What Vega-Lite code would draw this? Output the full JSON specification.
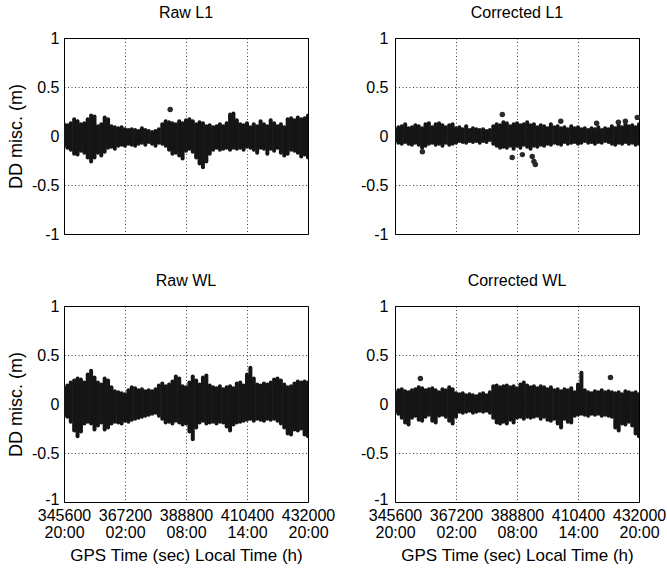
{
"$schema": "https://vega.github.io/schema/vega-lite/v6.json",
"background": "white",
"padding": {"top": 4, "left": 6, "right": 0, "bottom": 5},
"bounds": "flush",
"columns": 2,
"spacing": {"row": 72, "column": 87},
"config": {
 "font": "Liberation Sans",
 "view": {"stroke": "#000", "strokeWidth": 1},
 "axis": {"domain": false, "ticks": false, "grid": true, "gridColor": "#000", "gridDash": [1, 2.5], "gridOpacity": 0.75, "gridWidth": 1, "labelFont": "Liberation Sans", "labelFontSize": 16, "labelColor": "#000", "labelPadding": 5, "titleFont": "Liberation Sans", "titleFontSize": 18, "titleFontWeight": "normal", "titleColor": "#000"},
 "title": {"font": "Liberation Sans", "fontSize": 16, "fontWeight": "normal", "color": "#000", "offset": 9}
},
"datasets": {
 "bands": [
{"p":"Raw L1","t":345600,"lo":-0.10,"hi":0.12},{"p":"Raw L1","t":346800,"lo":-0.12,"hi":0.11},{"p":"Raw L1","t":348000,"lo":-0.14,"hi":0.13},{"p":"Raw L1","t":349200,"lo":-0.18,"hi":0.17},{"p":"Raw L1","t":350400,"lo":-0.19,"hi":0.15},{"p":"Raw L1","t":351600,"lo":-0.15,"hi":0.12},{"p":"Raw L1","t":352800,"lo":-0.17,"hi":0.13},{"p":"Raw L1","t":354000,"lo":-0.22,"hi":0.17},{"p":"Raw L1","t":355200,"lo":-0.26,"hi":0.21},{"p":"Raw L1","t":356400,"lo":-0.22,"hi":0.20},{"p":"Raw L1","t":357600,"lo":-0.17,"hi":0.10},{"p":"Raw L1","t":358800,"lo":-0.20,"hi":0.12},{"p":"Raw L1","t":360000,"lo":-0.16,"hi":0.19},{"p":"Raw L1","t":361200,"lo":-0.12,"hi":0.17},{"p":"Raw L1","t":362400,"lo":-0.11,"hi":0.10},{"p":"Raw L1","t":363600,"lo":-0.13,"hi":0.09},{"p":"Raw L1","t":364800,"lo":-0.10,"hi":0.08},{"p":"Raw L1","t":366000,"lo":-0.09,"hi":0.09},{"p":"Raw L1","t":367200,"lo":-0.10,"hi":0.07},{"p":"Raw L1","t":368400,"lo":-0.08,"hi":0.06},{"p":"Raw L1","t":369600,"lo":-0.09,"hi":0.07},{"p":"Raw L1","t":370800,"lo":-0.10,"hi":0.06},{"p":"Raw L1","t":372000,"lo":-0.08,"hi":0.05},{"p":"Raw L1","t":373200,"lo":-0.07,"hi":0.08},{"p":"Raw L1","t":374400,"lo":-0.09,"hi":0.06},{"p":"Raw L1","t":375600,"lo":-0.06,"hi":0.05},{"p":"Raw L1","t":376800,"lo":-0.08,"hi":0.04},{"p":"Raw L1","t":378000,"lo":-0.10,"hi":0.05},{"p":"Raw L1","t":379200,"lo":-0.07,"hi":0.07},{"p":"Raw L1","t":380400,"lo":-0.08,"hi":0.12},{"p":"Raw L1","t":381600,"lo":-0.10,"hi":0.15},{"p":"Raw L1","t":382800,"lo":-0.14,"hi":0.14},{"p":"Raw L1","t":384000,"lo":-0.18,"hi":0.13},{"p":"Raw L1","t":385200,"lo":-0.17,"hi":0.12},{"p":"Raw L1","t":386400,"lo":-0.20,"hi":0.15},{"p":"Raw L1","t":387600,"lo":-0.23,"hi":0.13},{"p":"Raw L1","t":388800,"lo":-0.15,"hi":0.16},{"p":"Raw L1","t":390000,"lo":-0.13,"hi":0.17},{"p":"Raw L1","t":391200,"lo":-0.16,"hi":0.15},{"p":"Raw L1","t":392400,"lo":-0.22,"hi":0.12},{"p":"Raw L1","t":393600,"lo":-0.28,"hi":0.14},{"p":"Raw L1","t":394800,"lo":-0.32,"hi":0.13},{"p":"Raw L1","t":396000,"lo":-0.26,"hi":0.10},{"p":"Raw L1","t":397200,"lo":-0.18,"hi":0.11},{"p":"Raw L1","t":398400,"lo":-0.14,"hi":0.09},{"p":"Raw L1","t":399600,"lo":-0.12,"hi":0.10},{"p":"Raw L1","t":400800,"lo":-0.14,"hi":0.12},{"p":"Raw L1","t":402000,"lo":-0.13,"hi":0.10},{"p":"Raw L1","t":403200,"lo":-0.12,"hi":0.13},{"p":"Raw L1","t":404400,"lo":-0.14,"hi":0.22},{"p":"Raw L1","t":405600,"lo":-0.12,"hi":0.23},{"p":"Raw L1","t":406800,"lo":-0.13,"hi":0.16},{"p":"Raw L1","t":408000,"lo":-0.12,"hi":0.12},{"p":"Raw L1","t":409200,"lo":-0.14,"hi":0.11},{"p":"Raw L1","t":410400,"lo":-0.11,"hi":0.13},{"p":"Raw L1","t":411600,"lo":-0.12,"hi":0.09},{"p":"Raw L1","t":412800,"lo":-0.14,"hi":0.12},{"p":"Raw L1","t":414000,"lo":-0.17,"hi":0.10},{"p":"Raw L1","t":415200,"lo":-0.12,"hi":0.15},{"p":"Raw L1","t":416400,"lo":-0.13,"hi":0.12},{"p":"Raw L1","t":417600,"lo":-0.18,"hi":0.10},{"p":"Raw L1","t":418800,"lo":-0.13,"hi":0.16},{"p":"Raw L1","t":420000,"lo":-0.15,"hi":0.13},{"p":"Raw L1","t":421200,"lo":-0.12,"hi":0.10},{"p":"Raw L1","t":422400,"lo":-0.17,"hi":0.12},{"p":"Raw L1","t":423600,"lo":-0.20,"hi":0.09},{"p":"Raw L1","t":424800,"lo":-0.18,"hi":0.17},{"p":"Raw L1","t":426000,"lo":-0.14,"hi":0.18},{"p":"Raw L1","t":427200,"lo":-0.15,"hi":0.16},{"p":"Raw L1","t":428400,"lo":-0.17,"hi":0.19},{"p":"Raw L1","t":429600,"lo":-0.21,"hi":0.17},{"p":"Raw L1","t":430800,"lo":-0.19,"hi":0.18},{"p":"Raw L1","t":432000,"lo":-0.22,"hi":0.21},
{"p":"Corrected L1","t":345600,"lo":-0.05,"hi":0.07},{"p":"Corrected L1","t":346800,"lo":-0.07,"hi":0.09},{"p":"Corrected L1","t":348000,"lo":-0.08,"hi":0.10},{"p":"Corrected L1","t":349200,"lo":-0.06,"hi":0.12},{"p":"Corrected L1","t":350400,"lo":-0.08,"hi":0.08},{"p":"Corrected L1","t":351600,"lo":-0.09,"hi":0.09},{"p":"Corrected L1","t":352800,"lo":-0.07,"hi":0.11},{"p":"Corrected L1","t":354000,"lo":-0.09,"hi":0.10},{"p":"Corrected L1","t":355200,"lo":-0.12,"hi":0.08},{"p":"Corrected L1","t":356400,"lo":-0.10,"hi":0.12},{"p":"Corrected L1","t":357600,"lo":-0.08,"hi":0.13},{"p":"Corrected L1","t":358800,"lo":-0.07,"hi":0.09},{"p":"Corrected L1","t":360000,"lo":-0.09,"hi":0.12},{"p":"Corrected L1","t":361200,"lo":-0.08,"hi":0.13},{"p":"Corrected L1","t":362400,"lo":-0.10,"hi":0.11},{"p":"Corrected L1","t":363600,"lo":-0.07,"hi":0.09},{"p":"Corrected L1","t":364800,"lo":-0.09,"hi":0.11},{"p":"Corrected L1","t":366000,"lo":-0.08,"hi":0.12},{"p":"Corrected L1","t":367200,"lo":-0.07,"hi":0.08},{"p":"Corrected L1","t":368400,"lo":-0.05,"hi":0.09},{"p":"Corrected L1","t":369600,"lo":-0.06,"hi":0.07},{"p":"Corrected L1","t":370800,"lo":-0.07,"hi":0.10},{"p":"Corrected L1","t":372000,"lo":-0.05,"hi":0.06},{"p":"Corrected L1","t":373200,"lo":-0.06,"hi":0.08},{"p":"Corrected L1","t":374400,"lo":-0.05,"hi":0.07},{"p":"Corrected L1","t":375600,"lo":-0.07,"hi":0.06},{"p":"Corrected L1","t":376800,"lo":-0.05,"hi":0.07},{"p":"Corrected L1","t":378000,"lo":-0.06,"hi":0.05},{"p":"Corrected L1","t":379200,"lo":-0.04,"hi":0.06},{"p":"Corrected L1","t":380400,"lo":-0.08,"hi":0.10},{"p":"Corrected L1","t":381600,"lo":-0.10,"hi":0.12},{"p":"Corrected L1","t":382800,"lo":-0.12,"hi":0.11},{"p":"Corrected L1","t":384000,"lo":-0.11,"hi":0.14},{"p":"Corrected L1","t":385200,"lo":-0.12,"hi":0.13},{"p":"Corrected L1","t":386400,"lo":-0.10,"hi":0.10},{"p":"Corrected L1","t":387600,"lo":-0.13,"hi":0.12},{"p":"Corrected L1","t":388800,"lo":-0.10,"hi":0.13},{"p":"Corrected L1","t":390000,"lo":-0.12,"hi":0.11},{"p":"Corrected L1","t":391200,"lo":-0.09,"hi":0.12},{"p":"Corrected L1","t":392400,"lo":-0.11,"hi":0.14},{"p":"Corrected L1","t":393600,"lo":-0.13,"hi":0.11},{"p":"Corrected L1","t":394800,"lo":-0.10,"hi":0.12},{"p":"Corrected L1","t":396000,"lo":-0.11,"hi":0.09},{"p":"Corrected L1","t":397200,"lo":-0.09,"hi":0.11},{"p":"Corrected L1","t":398400,"lo":-0.10,"hi":0.10},{"p":"Corrected L1","t":399600,"lo":-0.08,"hi":0.08},{"p":"Corrected L1","t":400800,"lo":-0.09,"hi":0.12},{"p":"Corrected L1","t":402000,"lo":-0.07,"hi":0.09},{"p":"Corrected L1","t":403200,"lo":-0.08,"hi":0.10},{"p":"Corrected L1","t":404400,"lo":-0.09,"hi":0.08},{"p":"Corrected L1","t":405600,"lo":-0.06,"hi":0.09},{"p":"Corrected L1","t":406800,"lo":-0.08,"hi":0.07},{"p":"Corrected L1","t":408000,"lo":-0.07,"hi":0.10},{"p":"Corrected L1","t":409200,"lo":-0.06,"hi":0.08},{"p":"Corrected L1","t":410400,"lo":-0.08,"hi":0.09},{"p":"Corrected L1","t":411600,"lo":-0.07,"hi":0.07},{"p":"Corrected L1","t":412800,"lo":-0.05,"hi":0.08},{"p":"Corrected L1","t":414000,"lo":-0.07,"hi":0.06},{"p":"Corrected L1","t":415200,"lo":-0.06,"hi":0.08},{"p":"Corrected L1","t":416400,"lo":-0.08,"hi":0.07},{"p":"Corrected L1","t":417600,"lo":-0.06,"hi":0.09},{"p":"Corrected L1","t":418800,"lo":-0.07,"hi":0.06},{"p":"Corrected L1","t":420000,"lo":-0.05,"hi":0.08},{"p":"Corrected L1","t":421200,"lo":-0.06,"hi":0.07},{"p":"Corrected L1","t":422400,"lo":-0.08,"hi":0.10},{"p":"Corrected L1","t":423600,"lo":-0.09,"hi":0.08},{"p":"Corrected L1","t":424800,"lo":-0.07,"hi":0.11},{"p":"Corrected L1","t":426000,"lo":-0.08,"hi":0.09},{"p":"Corrected L1","t":427200,"lo":-0.06,"hi":0.12},{"p":"Corrected L1","t":428400,"lo":-0.08,"hi":0.10},{"p":"Corrected L1","t":429600,"lo":-0.07,"hi":0.11},{"p":"Corrected L1","t":430800,"lo":-0.09,"hi":0.09},{"p":"Corrected L1","t":432000,"lo":-0.08,"hi":0.12},
{"p":"Raw WL","t":345600,"lo":-0.12,"hi":0.17},{"p":"Raw WL","t":346800,"lo":-0.13,"hi":0.19},{"p":"Raw WL","t":348000,"lo":-0.18,"hi":0.22},{"p":"Raw WL","t":349200,"lo":-0.27,"hi":0.24},{"p":"Raw WL","t":350400,"lo":-0.33,"hi":0.26},{"p":"Raw WL","t":351600,"lo":-0.28,"hi":0.25},{"p":"Raw WL","t":352800,"lo":-0.20,"hi":0.22},{"p":"Raw WL","t":354000,"lo":-0.18,"hi":0.30},{"p":"Raw WL","t":355200,"lo":-0.20,"hi":0.34},{"p":"Raw WL","t":356400,"lo":-0.26,"hi":0.27},{"p":"Raw WL","t":357600,"lo":-0.22,"hi":0.22},{"p":"Raw WL","t":358800,"lo":-0.19,"hi":0.20},{"p":"Raw WL","t":360000,"lo":-0.26,"hi":0.26},{"p":"Raw WL","t":361200,"lo":-0.24,"hi":0.24},{"p":"Raw WL","t":362400,"lo":-0.20,"hi":0.17},{"p":"Raw WL","t":363600,"lo":-0.18,"hi":0.13},{"p":"Raw WL","t":364800,"lo":-0.19,"hi":0.12},{"p":"Raw WL","t":366000,"lo":-0.20,"hi":0.11},{"p":"Raw WL","t":367200,"lo":-0.17,"hi":0.10},{"p":"Raw WL","t":368400,"lo":-0.18,"hi":0.14},{"p":"Raw WL","t":369600,"lo":-0.16,"hi":0.17},{"p":"Raw WL","t":370800,"lo":-0.15,"hi":0.16},{"p":"Raw WL","t":372000,"lo":-0.14,"hi":0.14},{"p":"Raw WL","t":373200,"lo":-0.13,"hi":0.15},{"p":"Raw WL","t":374400,"lo":-0.12,"hi":0.13},{"p":"Raw WL","t":375600,"lo":-0.11,"hi":0.14},{"p":"Raw WL","t":376800,"lo":-0.10,"hi":0.13},{"p":"Raw WL","t":378000,"lo":-0.09,"hi":0.15},{"p":"Raw WL","t":379200,"lo":-0.12,"hi":0.19},{"p":"Raw WL","t":380400,"lo":-0.15,"hi":0.21},{"p":"Raw WL","t":381600,"lo":-0.19,"hi":0.18},{"p":"Raw WL","t":382800,"lo":-0.18,"hi":0.20},{"p":"Raw WL","t":384000,"lo":-0.20,"hi":0.23},{"p":"Raw WL","t":385200,"lo":-0.17,"hi":0.28},{"p":"Raw WL","t":386400,"lo":-0.19,"hi":0.26},{"p":"Raw WL","t":387600,"lo":-0.21,"hi":0.18},{"p":"Raw WL","t":388800,"lo":-0.20,"hi":0.17},{"p":"Raw WL","t":390000,"lo":-0.28,"hi":0.22},{"p":"Raw WL","t":391200,"lo":-0.36,"hi":0.28},{"p":"Raw WL","t":392400,"lo":-0.24,"hi":0.24},{"p":"Raw WL","t":393600,"lo":-0.19,"hi":0.20},{"p":"Raw WL","t":394800,"lo":-0.17,"hi":0.27},{"p":"Raw WL","t":396000,"lo":-0.20,"hi":0.29},{"p":"Raw WL","t":397200,"lo":-0.19,"hi":0.19},{"p":"Raw WL","t":398400,"lo":-0.18,"hi":0.17},{"p":"Raw WL","t":399600,"lo":-0.20,"hi":0.16},{"p":"Raw WL","t":400800,"lo":-0.18,"hi":0.18},{"p":"Raw WL","t":402000,"lo":-0.19,"hi":0.15},{"p":"Raw WL","t":403200,"lo":-0.23,"hi":0.17},{"p":"Raw WL","t":404400,"lo":-0.27,"hi":0.18},{"p":"Raw WL","t":405600,"lo":-0.21,"hi":0.16},{"p":"Raw WL","t":406800,"lo":-0.19,"hi":0.21},{"p":"Raw WL","t":408000,"lo":-0.18,"hi":0.22},{"p":"Raw WL","t":409200,"lo":-0.17,"hi":0.19},{"p":"Raw WL","t":410400,"lo":-0.16,"hi":0.30},{"p":"Raw WL","t":411600,"lo":-0.15,"hi":0.37},{"p":"Raw WL","t":412800,"lo":-0.17,"hi":0.26},{"p":"Raw WL","t":414000,"lo":-0.15,"hi":0.20},{"p":"Raw WL","t":415200,"lo":-0.16,"hi":0.19},{"p":"Raw WL","t":416400,"lo":-0.17,"hi":0.21},{"p":"Raw WL","t":417600,"lo":-0.15,"hi":0.20},{"p":"Raw WL","t":418800,"lo":-0.16,"hi":0.22},{"p":"Raw WL","t":420000,"lo":-0.15,"hi":0.25},{"p":"Raw WL","t":421200,"lo":-0.17,"hi":0.26},{"p":"Raw WL","t":422400,"lo":-0.20,"hi":0.24},{"p":"Raw WL","t":423600,"lo":-0.24,"hi":0.20},{"p":"Raw WL","t":424800,"lo":-0.30,"hi":0.17},{"p":"Raw WL","t":426000,"lo":-0.31,"hi":0.18},{"p":"Raw WL","t":427200,"lo":-0.26,"hi":0.21},{"p":"Raw WL","t":428400,"lo":-0.27,"hi":0.23},{"p":"Raw WL","t":429600,"lo":-0.25,"hi":0.22},{"p":"Raw WL","t":430800,"lo":-0.31,"hi":0.23},{"p":"Raw WL","t":432000,"lo":-0.33,"hi":0.22},
{"p":"Corrected WL","t":345600,"lo":-0.08,"hi":0.12},{"p":"Corrected WL","t":346800,"lo":-0.10,"hi":0.14},{"p":"Corrected WL","t":348000,"lo":-0.14,"hi":0.15},{"p":"Corrected WL","t":349200,"lo":-0.19,"hi":0.13},{"p":"Corrected WL","t":350400,"lo":-0.21,"hi":0.12},{"p":"Corrected WL","t":351600,"lo":-0.14,"hi":0.14},{"p":"Corrected WL","t":352800,"lo":-0.12,"hi":0.15},{"p":"Corrected WL","t":354000,"lo":-0.16,"hi":0.17},{"p":"Corrected WL","t":355200,"lo":-0.17,"hi":0.16},{"p":"Corrected WL","t":356400,"lo":-0.13,"hi":0.14},{"p":"Corrected WL","t":357600,"lo":-0.11,"hi":0.15},{"p":"Corrected WL","t":358800,"lo":-0.17,"hi":0.16},{"p":"Corrected WL","t":360000,"lo":-0.19,"hi":0.14},{"p":"Corrected WL","t":361200,"lo":-0.12,"hi":0.12},{"p":"Corrected WL","t":362400,"lo":-0.11,"hi":0.15},{"p":"Corrected WL","t":363600,"lo":-0.13,"hi":0.14},{"p":"Corrected WL","t":364800,"lo":-0.17,"hi":0.17},{"p":"Corrected WL","t":366000,"lo":-0.20,"hi":0.15},{"p":"Corrected WL","t":367200,"lo":-0.13,"hi":0.11},{"p":"Corrected WL","t":368400,"lo":-0.08,"hi":0.10},{"p":"Corrected WL","t":369600,"lo":-0.09,"hi":0.11},{"p":"Corrected WL","t":370800,"lo":-0.08,"hi":0.09},{"p":"Corrected WL","t":372000,"lo":-0.07,"hi":0.10},{"p":"Corrected WL","t":373200,"lo":-0.09,"hi":0.09},{"p":"Corrected WL","t":374400,"lo":-0.08,"hi":0.08},{"p":"Corrected WL","t":375600,"lo":-0.07,"hi":0.10},{"p":"Corrected WL","t":376800,"lo":-0.08,"hi":0.11},{"p":"Corrected WL","t":378000,"lo":-0.07,"hi":0.09},{"p":"Corrected WL","t":379200,"lo":-0.09,"hi":0.12},{"p":"Corrected WL","t":380400,"lo":-0.14,"hi":0.18},{"p":"Corrected WL","t":381600,"lo":-0.19,"hi":0.19},{"p":"Corrected WL","t":382800,"lo":-0.20,"hi":0.17},{"p":"Corrected WL","t":384000,"lo":-0.18,"hi":0.18},{"p":"Corrected WL","t":385200,"lo":-0.20,"hi":0.19},{"p":"Corrected WL","t":386400,"lo":-0.16,"hi":0.17},{"p":"Corrected WL","t":387600,"lo":-0.19,"hi":0.18},{"p":"Corrected WL","t":388800,"lo":-0.14,"hi":0.16},{"p":"Corrected WL","t":390000,"lo":-0.13,"hi":0.20},{"p":"Corrected WL","t":391200,"lo":-0.15,"hi":0.22},{"p":"Corrected WL","t":392400,"lo":-0.13,"hi":0.19},{"p":"Corrected WL","t":393600,"lo":-0.14,"hi":0.17},{"p":"Corrected WL","t":394800,"lo":-0.13,"hi":0.18},{"p":"Corrected WL","t":396000,"lo":-0.12,"hi":0.16},{"p":"Corrected WL","t":397200,"lo":-0.15,"hi":0.18},{"p":"Corrected WL","t":398400,"lo":-0.13,"hi":0.17},{"p":"Corrected WL","t":399600,"lo":-0.16,"hi":0.15},{"p":"Corrected WL","t":400800,"lo":-0.17,"hi":0.17},{"p":"Corrected WL","t":402000,"lo":-0.15,"hi":0.14},{"p":"Corrected WL","t":403200,"lo":-0.20,"hi":0.15},{"p":"Corrected WL","t":404400,"lo":-0.24,"hi":0.13},{"p":"Corrected WL","t":405600,"lo":-0.15,"hi":0.15},{"p":"Corrected WL","t":406800,"lo":-0.18,"hi":0.14},{"p":"Corrected WL","t":408000,"lo":-0.19,"hi":0.16},{"p":"Corrected WL","t":409200,"lo":-0.12,"hi":0.12},{"p":"Corrected WL","t":410400,"lo":-0.11,"hi":0.20},{"p":"Corrected WL","t":411600,"lo":-0.10,"hi":0.32},{"p":"Corrected WL","t":412800,"lo":-0.11,"hi":0.14},{"p":"Corrected WL","t":414000,"lo":-0.12,"hi":0.12},{"p":"Corrected WL","t":415200,"lo":-0.10,"hi":0.11},{"p":"Corrected WL","t":416400,"lo":-0.11,"hi":0.13},{"p":"Corrected WL","t":417600,"lo":-0.10,"hi":0.12},{"p":"Corrected WL","t":418800,"lo":-0.12,"hi":0.14},{"p":"Corrected WL","t":420000,"lo":-0.11,"hi":0.12},{"p":"Corrected WL","t":421200,"lo":-0.12,"hi":0.13},{"p":"Corrected WL","t":422400,"lo":-0.13,"hi":0.12},{"p":"Corrected WL","t":423600,"lo":-0.24,"hi":0.11},{"p":"Corrected WL","t":424800,"lo":-0.27,"hi":0.12},{"p":"Corrected WL","t":426000,"lo":-0.20,"hi":0.10},{"p":"Corrected WL","t":427200,"lo":-0.21,"hi":0.13},{"p":"Corrected WL","t":428400,"lo":-0.18,"hi":0.12},{"p":"Corrected WL","t":429600,"lo":-0.22,"hi":0.11},{"p":"Corrected WL","t":430800,"lo":-0.30,"hi":0.12},{"p":"Corrected WL","t":432000,"lo":-0.33,"hi":0.10}
 ],
 "pts": [
{"p":"Raw L1","t":383200,"v":0.27},
{"p":"Corrected L1","t":383600,"v":0.22},{"p":"Corrected L1","t":355300,"v":-0.16},{"p":"Corrected L1","t":387100,"v":-0.22},{"p":"Corrected L1","t":390700,"v":-0.19},{"p":"Corrected L1","t":394200,"v":-0.21},{"p":"Corrected L1","t":394800,"v":-0.26},{"p":"Corrected L1","t":395300,"v":-0.29},{"p":"Corrected L1","t":404300,"v":0.15},{"p":"Corrected L1","t":417000,"v":0.13},{"p":"Corrected L1","t":424700,"v":0.14},{"p":"Corrected L1","t":427200,"v":0.15},{"p":"Corrected L1","t":431400,"v":0.19},
{"p":"Corrected WL","t":354600,"v":0.26},{"p":"Corrected WL","t":421900,"v":0.27}
 ]
},
"concat": [
 {"title": "Raw L1", "width": 244, "height": 196,
  "encoding": {"x": {"field": "t", "type": "quantitative", "scale": {"domain": [345600, 432000], "nice": false, "zero": false}, "axis": {"values": [345600, 367200, 388800, 410400, 432000], "labels": false, "title": null}}},
  "layer": [
   {"data": {"name": "bands"}, "transform": [{"filter": "datum.p == 'Raw L1'"}], "mark": {"type": "rule", "strokeWidth": 4, "strokeCap": "round", "color": "#151515", "clip": true},
    "encoding": {"y": {"field": "lo", "type": "quantitative", "scale": {"domain": [-1, 1], "nice": false}, "axis": {"values": [-1, -0.5, 0, 0.5, 1], "labelExpr": "'' + datum.value", "title": "DD misc. (m)", "titlePadding": 6}}, "y2": {"field": "hi"}}},
   {"data": {"name": "pts"}, "transform": [{"filter": "datum.p == 'Raw L1'"}], "mark": {"type": "circle", "size": 30, "color": "#2a2a2a", "opacity": 1},
    "encoding": {"y": {"field": "v", "type": "quantitative", "axis": {"values": [-1, -0.5, 0, 0.5, 1], "labelExpr": "'' + datum.value", "title": "DD misc. (m)", "titlePadding": 6}}}}
  ]},
 {"title": "Corrected L1", "width": 244, "height": 196,
  "encoding": {"x": {"field": "t", "type": "quantitative", "scale": {"domain": [345600, 432000], "nice": false, "zero": false}, "axis": {"values": [345600, 367200, 388800, 410400, 432000], "labels": false, "title": null}}},
  "layer": [
   {"data": {"name": "bands"}, "transform": [{"filter": "datum.p == 'Corrected L1'"}], "mark": {"type": "rule", "strokeWidth": 4, "strokeCap": "round", "color": "#151515", "clip": true},
    "encoding": {"y": {"field": "lo", "type": "quantitative", "scale": {"domain": [-1, 1], "nice": false}, "axis": {"values": [-1, -0.5, 0, 0.5, 1], "labelExpr": "'' + datum.value", "title": null, "labelPadding": 7}}, "y2": {"field": "hi"}}},
   {"data": {"name": "pts"}, "transform": [{"filter": "datum.p == 'Corrected L1'"}], "mark": {"type": "circle", "size": 30, "color": "#2a2a2a", "opacity": 1},
    "encoding": {"y": {"field": "v", "type": "quantitative", "axis": {"values": [-1, -0.5, 0, 0.5, 1], "labelExpr": "'' + datum.value", "title": null, "labelPadding": 7}}}}
  ]},
 {"title": "Raw WL", "width": 244, "height": 196,
  "encoding": {"x": {"field": "t", "type": "quantitative", "scale": {"domain": [345600, 432000], "nice": false, "zero": false}, "axis": {"values": [345600, 367200, 388800, 410400, 432000], "labelOverlap": false, "labelFlush": false, "labelFontSize": 16, "labelPadding": 5, "labelLineHeight": 17, "labelExpr": "[format(datum.value, 'd'), (datum.value == 345600 || datum.value == 432000) ? '20:00' : datum.value == 367200 ? '02:00' : datum.value == 388800 ? '08:00' : '14:00']", "title": "GPS Time (sec) Local Time (h)", "titleFontSize": 17, "titlePadding": 7}}},
  "layer": [
   {"data": {"name": "bands"}, "transform": [{"filter": "datum.p == 'Raw WL'"}], "mark": {"type": "rule", "strokeWidth": 4, "strokeCap": "round", "color": "#151515", "clip": true},
    "encoding": {"y": {"field": "lo", "type": "quantitative", "scale": {"domain": [-1, 1], "nice": false}, "axis": {"values": [-1, -0.5, 0, 0.5, 1], "labelExpr": "'' + datum.value", "labelOffset": {"condition": {"test": "datum.value == -1", "value": -3}, "value": 0}, "title": "DD misc. (m)", "titlePadding": 6}}, "y2": {"field": "hi"}}},
   {"data": {"name": "pts"}, "transform": [{"filter": "datum.p == 'Raw WL'"}], "mark": {"type": "circle", "size": 30, "color": "#2a2a2a", "opacity": 1},
    "encoding": {"y": {"field": "v", "type": "quantitative", "axis": {"values": [-1, -0.5, 0, 0.5, 1], "labelExpr": "'' + datum.value", "labelOffset": {"condition": {"test": "datum.value == -1", "value": -3}, "value": 0}, "title": "DD misc. (m)", "titlePadding": 6}}}}
  ]},
 {"title": "Corrected WL", "width": 244, "height": 196,
  "encoding": {"x": {"field": "t", "type": "quantitative", "scale": {"domain": [345600, 432000], "nice": false, "zero": false}, "axis": {"values": [345600, 367200, 388800, 410400, 432000], "labelOverlap": false, "labelFlush": false, "labelFontSize": 16, "labelPadding": 5, "labelLineHeight": 17, "labelExpr": "[format(datum.value, 'd'), (datum.value == 345600 || datum.value == 432000) ? '20:00' : datum.value == 367200 ? '02:00' : datum.value == 388800 ? '08:00' : '14:00']", "title": "GPS Time (sec) Local Time (h)", "titleFontSize": 17, "titlePadding": 7}}},
  "layer": [
   {"data": {"name": "bands"}, "transform": [{"filter": "datum.p == 'Corrected WL'"}], "mark": {"type": "rule", "strokeWidth": 4, "strokeCap": "round", "color": "#151515", "clip": true},
    "encoding": {"y": {"field": "lo", "type": "quantitative", "scale": {"domain": [-1, 1], "nice": false}, "axis": {"values": [-1, -0.5, 0, 0.5, 1], "labelExpr": "'' + datum.value", "labelOffset": {"condition": {"test": "datum.value == -1", "value": -3}, "value": 0}, "title": null, "labelPadding": 7}}, "y2": {"field": "hi"}}},
   {"data": {"name": "pts"}, "transform": [{"filter": "datum.p == 'Corrected WL'"}], "mark": {"type": "circle", "size": 30, "color": "#2a2a2a", "opacity": 1},
    "encoding": {"y": {"field": "v", "type": "quantitative", "axis": {"values": [-1, -0.5, 0, 0.5, 1], "labelExpr": "'' + datum.value", "labelOffset": {"condition": {"test": "datum.value == -1", "value": -3}, "value": 0}, "title": null, "labelPadding": 7}}}}
  ]}
]
}
